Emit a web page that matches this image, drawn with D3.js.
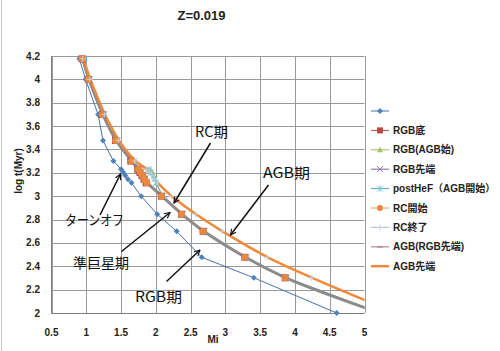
<!DOCTYPE html>
<html><head><meta charset="utf-8">
<script src="https://cdn.jsdelivr.net/npm/d3@7"></script>
<style>
html,body{margin:0;padding:0;background:#fff;}
svg{display:block;}
text{font-family:"Liberation Sans","Noto Sans CJK JP",sans-serif;}
</style>
</head><body>
<script>
// ---- data ----
const ages = [4.176, 4.0, 3.699, 3.477, 3.301, 3.230, 3.204, 3.176, 3.146, 3.114, 3.0, 2.845, 2.699, 2.477, 2.301, 2.0];
const turnoff     = [0.90, 0.99, 1.17, 1.24, 1.39, 1.50, 1.53, 1.56, 1.60, 1.65, 1.79, 2.02, 2.30, 2.66, 3.41, 4.60];
const rgbBase     = [0.94, 1.03, 1.23, 1.42, 1.64, 1.74, 1.77, 1.80, 1.83, 1.86, 2.08, 2.37, 2.68, 3.28, 3.86, 5.20];
const rgbAgbStart = [0.95, 1.04, 1.25, 1.44, 1.68, 1.92, 1.95, 1.97, 1.99, 2.01, 2.09, 2.38, 2.69, 3.29, 3.87, 5.22];
const rgbTip      = [0.95, 1.04, 1.24, 1.43, 1.65, 1.75, 1.78, 1.81, 1.84, 1.87, 2.09, 2.38, 2.69, 3.29, 3.87, 5.21];
const postHeF     = [0.96, 1.05, 1.26, 1.45, 1.69, 1.90, 1.93, 1.96, 1.98, 2.00, 2.10, 2.39, 2.70, 3.30, 3.88, 5.23];
const rcStart     = [0.94, 1.03, 1.23, 1.42, 1.65, 1.75, 1.78, 1.81, 1.84, 1.87, 2.08, 2.37, 2.68, 3.28, 3.86, 5.20];
const rcEnd       = [0.95, 1.05, 1.26, 1.46, 1.70, 1.86, 1.90, 1.94, 1.98, 2.02, 2.22, 2.57, 2.95, 3.60, 4.24, 5.43];
const agbRgbTip   = [0.95, 1.04, 1.24, 1.43, 1.66, 1.76, 1.79, 1.82, 1.85, 1.88, 2.09, 2.38, 2.69, 3.29, 3.87, 5.22];
const agbTip      = [0.96, 1.06, 1.27, 1.47, 1.71, 1.87, 1.91, 1.95, 1.99, 2.03, 2.23, 2.58, 2.96, 3.61, 4.25, 5.45];
const seriesNames = ["", "RGB底", "RGB(AGB始)", "RGB先端", "postHeF（AGB開始）", "RC開始", "RC終了", "AGB(RGB先端)", "AGB先端"];
const xTicks = [0.5, 1, 1.5, 2, 2.5, 3, 3.5, 4, 4.5, 5];
const yTicks = [2, 2.2, 2.4, 2.6, 2.8, 3, 3.2, 3.4, 3.6, 3.8, 4, 4.2];
const titleText = "Z=0.019";
const xTitle = "Mi";
const yTitle = "log t(Myr)";
const notes = [
  {text:"ターンオフ", tx:65, ty:220, w:59, x1:100, y1:215, x2:120.5, y2:174},
  {text:"準巨星期", tx:73, ty:263, w:56, x1:121.5, y1:251.5, x2:170, y2:212.5},
  {text:"RGB期", tx:135, ty:297, w:47, x1:166.5, y1:281.5, x2:200, y2:250},
  {text:"RC期", tx:195, ty:132, w:33, x1:210.5, y1:143, x2:174, y2:203},
  {text:"AGB期", tx:263, ty:172.5, w:47, x1:268.5, y1:185, x2:230.5, y2:235}
];

const seriesData = [turnoff, rgbBase, rgbAgbStart, rgbTip, postHeF, rcStart, rcEnd, agbRgbTip, agbTip];
const styles = [
  {color:"#4672aa", mcolor:"#4f81bd", width:1, marker:"diamond"},
  {color:"#c0504d", mcolor:"#b8473f", width:1.5, marker:"square"},
  {color:"#9bbb59", mcolor:"#a6c46c", width:1, marker:"triangle"},
  {color:"#8064a2", mcolor:"#8a72ab", width:1, marker:"x"},
  {color:"#4bacc6", mcolor:"#7cc6d8", width:1, marker:"star"},
  {color:"#f79646", mcolor:"#e7883e", width:1.5, marker:"circle"},
  {color:"#a8bad6", mcolor:"#c4d0e4", width:1, marker:"plus"},
  {color:"#8f8a8b", mcolor:"#c7a2b0", width:3, marker:"dash", legendColor:"#c4a2b0"},
  {color:"#f08a3a", mcolor:"#f08a3a", width:2.5, marker:"none"}
];

const W = 500, H = 351;
const svg = d3.select("body").append("svg").attr("width", W).attr("height", H);
svg.append("rect").attr("width", W).attr("height", H).attr("fill", "#fff");
svg.append("line").attr("x1",1.5).attr("x2",1.5).attr("y1",0).attr("y2",H).attr("stroke","#c8c8c8");

const x = d3.scaleLinear().domain([0.5, 5]).range([51.5, 364.5]);
const y = d3.scaleLinear().domain([2, 4.2]).range([313, 56]);

// grid
const g = svg.append("g");
g.selectAll(".vg").data(xTicks).join("line")
  .attr("x1", d => Math.round(x(d)) + 0.5).attr("x2", d => Math.round(x(d)) + 0.5)
  .attr("y1", y(4.2)).attr("y2", y(2)).attr("stroke", "#9a9a9a").attr("stroke-width", 1);
g.selectAll(".hg").data(yTicks).join("line")
  .attr("y1", d => Math.round(y(d)) + 0.5).attr("y2", d => Math.round(y(d)) + 0.5)
  .attr("x1", x(0.5)).attr("x2", x(5)).attr("stroke", "#9a9a9a").attr("stroke-width", 1);
// axes lines
g.append("line").attr("x1", 51.5).attr("x2", 51.5).attr("y1", 56).attr("y2", 313.5).attr("stroke", "#808080");
g.append("line").attr("x1", 51.5).attr("x2", 364.5).attr("y1", 313.5).attr("y2", 313.5).attr("stroke", "#808080");

// tick labels
svg.selectAll(".yt").data(yTicks).join("text")
  .attr("x", 40).attr("y", d => y(d)).attr("dy", "0.35em")
  .attr("text-anchor", "end").attr("font-size", 10).attr("font-weight", "bold").attr("fill", "#222")
  .text(d => d3.format("")(d));
svg.selectAll(".xt").data(xTicks).join("text")
  .attr("x", d => x(d)).attr("y", 332).attr("dy", "0.35em")
  .attr("text-anchor", "middle").attr("font-size", 10).attr("font-weight", "bold").attr("fill", "#222")
  .text(d => d3.format("")(d));

svg.append("text").attr("x", 213).attr("y", 339.5).attr("dy", "0.35em").attr("text-anchor", "middle")
  .attr("font-size", 10).attr("font-weight", "bold").attr("fill", "#222").text(xTitle);
svg.append("text").attr("transform", "translate(18,171) rotate(-90)").attr("dy", "0.35em").attr("text-anchor", "middle")
  .attr("font-size", 10).attr("font-weight", "bold").attr("fill", "#222").text(yTitle);
svg.append("text").attr("x", 201.5).attr("y", 15).attr("dy", "0.35em").attr("text-anchor", "middle")
  .attr("font-size", 13).attr("font-weight", "bold").attr("fill", "#222").text(titleText);

// clip
const defs = svg.append("defs");
defs.append("clipPath").attr("id", "plotclip")
  .append("rect").attr("x", 51.5).attr("y", 52).attr("width", 313).attr("height", 261.5);
defs.append("clipPath").attr("id", "markclip")
  .append("rect").attr("x", 47).attr("y", 50).attr("width", 322).attr("height", 270);

const plot = svg.append("g").attr("clip-path", "url(#plotclip)");
const marks = svg.append("g").attr("clip-path", "url(#markclip)");

function pts(arr) { return ages.map((a, i) => ({t: a, m: arr[i]})).filter(p => p.m != null); }

const lineGen = d3.line().x(p => x(p.m)).y(p => y(p.t));
const smoothGen = d3.line().x(p => x(p.m)).y(p => y(p.t)).curve(d3.curveCatmullRom.alpha(0.5));

seriesData.forEach((arr, i) => {
  const st = styles[i];
  plot.append("path").datum(pts(arr))
    .attr("d", i >= 6 ? smoothGen : lineGen)
    .attr("fill", "none").attr("stroke", st.color).attr("stroke-width", st.width)
    .attr("stroke-linejoin", "round");
});

function drawMarker(sel, type, cx, cy, color, s) {
  s = s || 3.5;
  if (type === "diamond") {
    sel.append("path").attr("d", `M${cx},${cy-s}L${cx+s},${cy}L${cx},${cy+s}L${cx-s},${cy}Z`).attr("fill", color);
  } else if (type === "square") {
    sel.append("rect").attr("x", cx - s).attr("y", cy - s).attr("width", 2*s).attr("height", 2*s).attr("fill", color);
  } else if (type === "triangle") {
    sel.append("path").attr("d", `M${cx},${cy-s}L${cx+s},${cy+s*0.8}L${cx-s},${cy+s*0.8}Z`).attr("fill", color);
  } else if (type === "x") {
    sel.append("path").attr("d", `M${cx-s},${cy-s}L${cx+s},${cy+s}M${cx-s},${cy+s}L${cx+s},${cy-s}`).attr("stroke", color).attr("stroke-width", 1);
  } else if (type === "star") {
    sel.append("path").attr("d", `M${cx-s},${cy-s}L${cx+s},${cy+s}M${cx-s},${cy+s}L${cx+s},${cy-s}M${cx},${cy-s}L${cx},${cy+s}`).attr("stroke", color).attr("stroke-width", 1);
  } else if (type === "circle") {
    sel.append("circle").attr("cx", cx).attr("cy", cy).attr("r", s).attr("fill", color);
  } else if (type === "plus") {
    sel.append("path").attr("d", `M${cx-s},${cy}L${cx+s},${cy}M${cx},${cy-s}L${cx},${cy+s}`).attr("stroke", color).attr("stroke-width", 1);
  } else if (type === "dash") {
    sel.append("path").attr("d", `M${cx-s},${cy}L${cx+s},${cy}`).attr("stroke", color).attr("stroke-width", 1.5);
  }
}

const markerSize = [3, 3.5, 3, 3, 3, 3.5, 3, 3, 3];
seriesData.forEach((arr, i) => {
  const st = styles[i];
  if (st.marker === "none" || st.marker === "dash") return;
  const mg = marks.append("g");
  pts(arr).filter(p => p.m <= 5.05).forEach(p => drawMarker(mg, st.marker, x(p.m), y(p.t), st.mcolor, markerSize[i]));
});

// legend
const lg = svg.append("g");
seriesNames.forEach((name, i) => {
  const st = styles[i];
  const cy = 111 + i * 19.4;
  const c = st.legendColor || st.color;
  lg.append("line").attr("x1", 371).attr("x2", 389).attr("y1", cy).attr("y2", cy)
    .attr("stroke", c).attr("stroke-width", i === 8 ? 2.5 : (i === 7 ? 1.5 : 1));
  if (st.marker !== "none") drawMarker(lg, st.marker, 380, cy, st.marker === "dash" ? "#b08898" : st.mcolor, 3);
  lg.append("text").attr("x", 393).attr("y", cy).attr("dy", "0.35em")
    .attr("font-size", 10).attr("font-weight", "bold").attr("fill", "#222").text(name);
});

// annotations
defs.append("marker").attr("id", "arr").attr("viewBox", "0 0 10 10").attr("refX", 9).attr("refY", 5)
  .attr("markerWidth", 7).attr("markerHeight", 7).attr("orient", "auto-start-reverse").attr("markerUnits", "userSpaceOnUse")
  .append("path").attr("d", "M1,1L9,5L1,9").attr("fill", "none").attr("stroke", "#111").attr("stroke-width", 1.6);
const ag = svg.append("g");
notes.forEach(n => {
  ag.append("line").attr("x1", n.x1).attr("y1", n.y1).attr("x2", n.x2).attr("y2", n.y2)
    .attr("stroke", "#111").attr("stroke-width", 1.5).attr("marker-end", "url(#arr)");
  ag.append("text").attr("x", n.tx).attr("y", n.ty).attr("dy", "0.38em")
    .attr("font-size", 14).attr("fill", "#111")
    .attr("textLength", n.w).attr("lengthAdjust", "spacingAndGlyphs")
    .style("font-family", "'Noto Sans CJK JP','Liberation Sans',sans-serif")
    .text(n.text);
});
</script>
</body></html>
